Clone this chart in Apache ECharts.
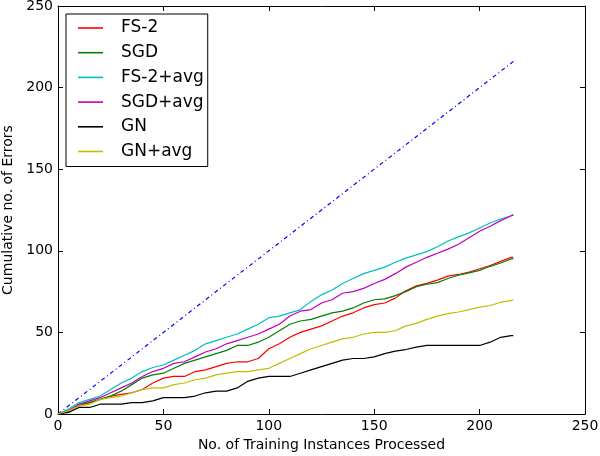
<!DOCTYPE html>
<html>
<head>
<meta charset="utf-8">
<script src="https://cdn.jsdelivr.net/npm/echarts@6/dist/echarts.min.js"></script>
<style>
html,body{margin:0;padding:0;background:#fff;}
#c{width:600px;height:456px;}
</style>
</head>
<body>
<div id="c"></div>
<script>
// Instances processed (x positions of the sampled points)
const xs = [0,5,10,15,20,25,30,35,40,45,50,55,60,65,70,75,80,85,90,95,100,105,110,115,120,125,130,135,140,145,150,155,160,165,170,175,180,185,190,195,200,205,210,215,216];

// Cumulative number of errors per method
const fs2 = [0,2,5,7,9,11,12,13,15,19,22,23,23,26,27,29,31,32,32,34,40,43,47,50,52,54,57,60,62,65,67,68,71,75.5,78.5,80,82,84.5,85.5,87,89,91,93.5,96,96];
const sgd = [0,2,6,7,9,11,14,18,22,24,25,28,31,33,35,37,39,42,42,44,47,51,55,57,58,60,62,63,65,68,70,70.5,72.5,75,78,79.5,80.5,83,85,86.5,88,90.5,92.5,95,95];
const fs2avg = [0,3,7,9,11,15,19,22,26,28.5,30,33,36,39,43,45,47,49,52,55,59,60,62,64,69,73,76,80,83,86,88,90,93,95.5,97.5,99.5,102.5,106,108.5,111,114,117,119.5,121.5,122];
const sgdavg = [0,2,6,8,10,13,16,19,23,26,28,31,32,35,38,40,43,45,47,49,52,55,60,63,64,68,70,74,75,77,80,82.5,86,90,93,96,98.5,101,104,108,112,115,118.5,121.5,122];
const gn = [0,1,4,4,6,6,6,7,7,8,10,10,10,11,13,14,14,16,20,22,23,23,23,25,27,29,31,33,34,34,35,37,38.5,39.5,41,42,42,42,42,42,42,44,47,48,48];
const gnavg = [0,2,5,6,9,10,11,13,15,16,16,18,19,21,22,24,25,26,26,27,28,31,34,37,40,42,44,46,47,49,50,50,51,54,55.5,58,60,61.5,62.5,64,65.5,66.5,68.5,69.5,70];

// Reference line (every instance an error)
const diagX = [0,216];
const diagY = [0,216];

const names = ['FS-2','SGD','FS-2+avg','SGD+avg','GN','GN+avg'];
const colors = ['#ff0000','#008000','#00bfbf','#bf00bf','#000000','#bfbf00'];
const values = [fs2, sgd, fs2avg, sgdavg, gn, gnavg];

const font = 'DejaVu Sans';
const chart = echarts.init(document.getElementById('c'), null, {renderer:'canvas'});

const series = [{
  name: 'diag', type: 'line', symbol: 'none', silent: true,
  data: diagX.map((x,i)=>[x, diagY[i]]),
  lineStyle: {color:'#0000ff', width:1.2, type:[4,3,1,3]},
  z: 1
}];
names.forEach((n,k)=>{
  series.push({
    name: n, type: 'line', symbol: 'none', showSymbol:false, silent: true,
    data: xs.map((x,i)=>[x, values[k][i]]),
    lineStyle: {color: colors[k], width: 1.2},
    itemStyle: {color: colors[k]},
    z: 2
  });
});

const axisCommon = {
  type:'value', min:0, max:250, interval:50,
  axisLine:{show:true, onZero:false, lineStyle:{color:'#000', width:1}},
  axisTick:{show:true, inside:true, length:5, lineStyle:{color:'#000', width:1}},
  splitLine:{show:false}
};

chart.setOption({
  animation:false,
  backgroundColor:'#fff',
  grid:{left:58, right:15, top:6, bottom:42, containLabel:false, outerBoundsMode:'none'},
  xAxis:[
    Object.assign({}, axisCommon, {
      position:'bottom',
      name:'No. of Training Instances Processed', nameLocation:'middle', nameGap:20,
      nameTextStyle:{fontFamily:font, fontSize:14, color:'#000'},
      axisLabel:{show:true, margin:5, fontFamily:font, fontSize:14, color:'#000'}
    }),
    Object.assign({}, axisCommon, {position:'top', axisLabel:{show:false}})
  ],
  yAxis:[
    Object.assign({}, axisCommon, {
      position:'left',
      name:'Cumulative no. of Errors', nameLocation:'middle', nameGap:33,
      nameTextStyle:{fontFamily:font, fontSize:14, color:'#000'},
      axisLabel:{show:true, margin:5, fontFamily:font, fontSize:14, color:'#000'}
    }),
    Object.assign({}, axisCommon, {position:'right', axisLabel:{show:false}})
  ],
  legend:{
    data: names.map(n=>({name:n, icon:'rect'})),
    orient:'vertical', left:66, top:14,
    padding:[4,4,5,12], itemGap:4.7, itemWidth:25, itemHeight:1.6,
    borderColor:'#000', borderWidth:1, borderRadius:0, backgroundColor:'#fff',
    textStyle:{fontFamily:font, fontSize:17, color:'#000', lineHeight:20, padding:[0,0,0,13]}
  },
  series: series
});
</script>
</body>
</html>
